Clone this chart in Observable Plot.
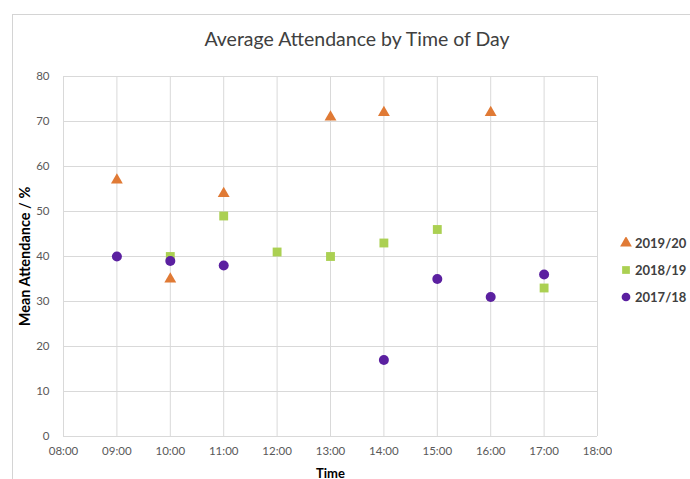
<!DOCTYPE html>
<html>
<head>
<meta charset="utf-8">
<script src="https://cdn.jsdelivr.net/npm/d3@7"></script>
<script src="https://cdn.jsdelivr.net/npm/@observablehq/plot@0.6"></script>
<style>
  html, body { margin: 0; padding: 0; background: #fff; overflow: hidden; }
  body { width: 690px; height: 479px; position: relative; font-family: Lato, "Open Sans", sans-serif; }
  #frame { position: absolute; left: 12px; top: 14px; width: 700px; height: 500px; border: 1px solid #d4d4d4; box-sizing: border-box; }
  #title { position: absolute; left: 12px; width: 690px; top: 27px; text-align: center; font-size: 19.5px; color: #404040; }
  #chart { position: absolute; left: 12px; top: 60px; }
  #legend { position: absolute; left: 620px; top: 229px; font-size: 13px; font-weight: bold; color: #404040; }
  #legend div { height: 27px; display: flex; align-items: center; }
  #legend svg { margin-right: 3px; }
</style>
</head>
<body>
<div id="frame"></div>
<div id="title">Average Attendance by Time of Day</div>
<div id="chart"></div>
<div id="legend"></div>
<script>
const seriesNames = ["2019/20", "2018/19", "2017/18"];
const seriesColors = ["#E07A35", "#ABD052", "#5B20A0"];
const seriesSymbols = ["triangle", "square", "circle"];

const times2019 = ["09:00", "10:00", "11:00", "13:00", "14:00", "16:00"];
const values2019 = [57, 35, 54, 71, 72, 72];

const times2018 = ["10:00", "11:00", "12:00", "13:00", "14:00", "15:00", "17:00"];
const values2018 = [40, 49, 41, 40, 43, 46, 33];

const times2017 = ["09:00", "10:00", "11:00", "14:00", "15:00", "16:00", "17:00"];
const values2017 = [40, 39, 38, 17, 35, 31, 36];

const xTicks = ["08:00","09:00","10:00","11:00","12:00","13:00","14:00","15:00","16:00","17:00","18:00"];
const yTicks = [0, 10, 20, 30, 40, 50, 60, 70, 80];

const toHour = s => +s.slice(0, 2);
const build = (times, values) => times.map((t, i) => ({hour: toHour(t), value: values[i]}));
const series = [build(times2019, values2019), build(times2018, values2018), build(times2017, values2017)];
const radii = [4.4, 5.0, 5.0];
const fmt = h => xTicks.find(t => toHour(t) === h);

const plot = Plot.plot({
  width: 600,
  height: 420,
  marginLeft: 51,
  marginRight: 15,
  marginTop: 16,
  marginBottom: 44,
  style: {fontFamily: "Lato, 'Open Sans', sans-serif", fontSize: "11.5px", color: "#595959", background: "transparent"},
  x: {domain: [8, 18], ticks: xTicks.map(toHour), tickFormat: fmt, tickSize: 0, tickPadding: 10, label: null},
  y: {domain: [0, 80], ticks: yTicks, tickSize: 0, tickPadding: 14, label: null},
  marks: [
    Plot.gridX(xTicks.map(toHour), {stroke: "#d9d9d9", strokeOpacity: 1}),
    Plot.gridY(yTicks, {stroke: "#d9d9d9", strokeOpacity: 1}),
    Plot.axisX({ticks: xTicks.map(toHour), tickFormat: fmt, tickSize: 0, tickPadding: 10, label: null, fill: "#595959"}),
    Plot.axisY({ticks: yTicks, tickSize: 0, tickPadding: 14, label: null, fill: "#595959"}),
    ...series.map((d, i) => Plot.dot(d, {x: "hour", y: "value", symbol: () => seriesSymbols[i], fill: seriesColors[i], r: radii[i], stroke: "none"})),
    Plot.text(["Time"], {frameAnchor: "bottom", dy: 41, fontWeight: "bold", fontSize: 13, fill: "#000"}),
    Plot.text(["Mean Attendance / %"], {frameAnchor: "left", textAnchor: "middle", dx: -38, rotate: -90, fontWeight: "bold", fontSize: 14.5, fill: "#000"})
  ]
});
document.getElementById("chart").appendChild(plot);

const legend = document.getElementById("legend");
seriesNames.forEach((name, i) => {
  const row = document.createElement("div");
  const sym = d3.symbol(d3["symbol" + seriesSymbols[i][0].toUpperCase() + seriesSymbols[i].slice(1)], 60)();
  row.innerHTML = `<svg width="12" height="12" viewBox="-6 -6 12 12"><path d="${sym}" fill="${seriesColors[i]}"/></svg>${name}`;
  legend.appendChild(row);
});
</script>
</body>
</html>
